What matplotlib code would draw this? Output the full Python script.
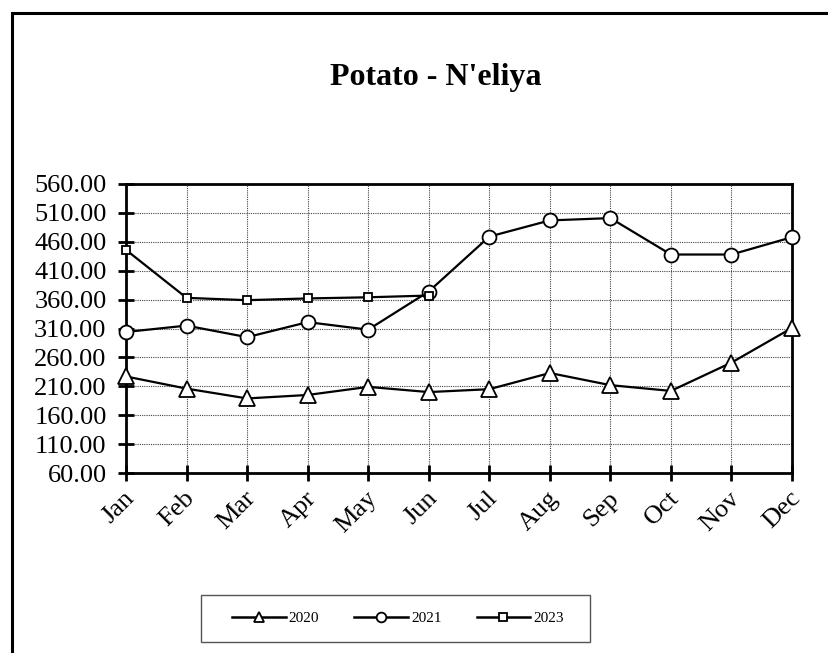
import matplotlib
matplotlib.use("Agg")
import matplotlib.pyplot as plt
from matplotlib.lines import Line2D
from matplotlib.patches import Rectangle
from matplotlib.transforms import ScaledTranslation

months = ["Jan", "Feb", "Mar", "Apr", "May", "Jun", "Jul", "Aug", "Sep", "Oct", "Nov", "Dec"]
s2020 = [227, 206, 189, 195, 209, 200, 205, 233, 212, 202, 251, 311]
s2021 = [304, 315, 295, 321, 308, 374, 469, 497, 501, 438, 438, 468]
s2023 = [446, 363, 359, 362, 364, 367]
yticks = [60, 110, 160, 210, 260, 310, 360, 410, 460, 510, 560]
title = "Potato - N'eliya"

plt.rcParams['font.family'] = ['Liberation Serif', 'DejaVu Serif']

W, H = 829, 653
fig = plt.figure(figsize=(W / 100, H / 100), dpi=100)

# outer frame (left and top visible, extends beyond figure)
fig.patches.append(Rectangle((12 / W, -0.1), 1.2, 1 - 13 / H + 0.1, transform=fig.transFigure,
                             fill=False, edgecolor='black', linewidth=2.2, zorder=0))

ax = fig.add_axes([126 / W, 1 - 473 / H, (792 - 126) / W, (473 - 184) / H])
x = list(range(len(months)))

kw = dict(color='black', linewidth=1.6, markerfacecolor='white', markeredgecolor='black',
          markeredgewidth=1.3, clip_on=False)
ax.plot(x, s2020, marker='^', markersize=11, label='2020', zorder=3, **kw)
ax.plot(x, s2021, marker='o', markersize=10, label='2021', zorder=4, **kw)
ax.plot(x[:len(s2023)], s2023, marker='s', markersize=5.5, label='2023', zorder=5, **kw)

ax.set_xlim(0, 11)
ax.set_ylim(60, 560)
ax.set_yticks(yticks)
ax.set_yticklabels([f"{v:.2f}" for v in yticks], fontsize=19)
ax.set_xticks(x)
ax.set_xticklabels([])
# rotated month labels placed at the tick positions
offset = ScaledTranslation(5 / 100, -22 / 100, fig.dpi_scale_trans)
for xi, m in zip(x, months):
    ax.text(xi, 0, m, transform=ax.get_xaxis_transform() + offset, rotation=45,
            rotation_mode='anchor', ha='right', va='center', fontsize=19, clip_on=False)
ax.tick_params(axis='both', direction='inout', length=12, width=2.0, color='black')
ax.tick_params(axis='y', pad=8)

ax.grid(True, color='#444444', linestyle=(0, (1, 1)), linewidth=0.8)
ax.set_axisbelow(True)
for s in ax.spines.values():
    s.set_linewidth(2.0)
    s.set_color('black')

fig.text(436 / W, 1 - 77 / H, title, ha='center', va='center', fontsize=23, fontweight='bold')

# legend frame
fig.patches.append(Rectangle((201 / W, 1 - 642 / H), (590 - 201) / W, (642 - 595) / H,
                             transform=fig.transFigure, fill=False, edgecolor='#555555',
                             linewidth=1.0, zorder=1))
handles = [
    Line2D([], [], color='black', linewidth=1.8, marker='^', markersize=7, markerfacecolor='white',
           markeredgecolor='black', markeredgewidth=1.3),
    Line2D([], [], color='black', linewidth=1.8, marker='o', markersize=7, markerfacecolor='white',
           markeredgecolor='black', markeredgewidth=1.3),
    Line2D([], [], color='black', linewidth=1.8, marker='s', markersize=6, markerfacecolor='white',
           markeredgecolor='black', markeredgewidth=1.3),
]
leg = fig.legend(handles, ['2020', '2021', '2023'], ncol=3, loc='center',
                 bbox_to_anchor=(398 / W, 1 - 618 / H), fontsize=11, frameon=False,
                 handlelength=3.5, columnspacing=2.3, handletextpad=0.2,
                 borderpad=0, borderaxespad=0)

fig.savefig("out.png", dpi=100)
